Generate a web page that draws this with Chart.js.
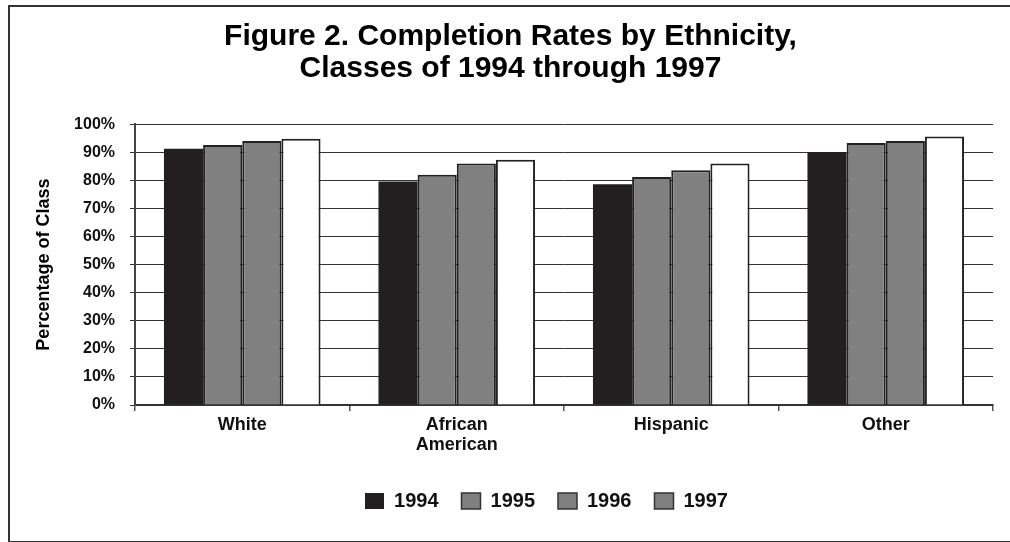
<!DOCTYPE html>
<html>
<head>
<meta charset="utf-8">
<script src="https://cdn.jsdelivr.net/npm/chart.js@4.4.1/dist/chart.umd.min.js"></script>
<style>
  html, body { margin: 0; padding: 0; background: #fff; overflow: hidden; }
  #wrap { position: relative; width: 1010px; height: 542px; }
  #frame { position: absolute; left: 8px; top: 5px; width: 1010px; height: 534px; border-left: 2px solid #333; border-top: 2px solid #333; border-bottom: 2px solid #333; }
  canvas { position: absolute; left: 0; top: 0; }
</style>
</head>
<body>
<div id="wrap">
  <div id="frame"></div>
  <canvas id="c" width="1010" height="542"></canvas>
</div>
<script>
const categories = [["White"], ["African", "American"], ["Hispanic"], ["Other"]];
const years = ["1994", "1995", "1996", "1997"];
const values1994 = [91.3, 79.6, 78.6, 90.1];
const values1995 = [92.6, 82.0, 81.2, 93.3];
const values1996 = [94.0, 86.0, 83.6, 94.0];
const values1997 = [94.8, 87.3, 86.0, 95.6];
const yTicks = [0, 10, 20, 30, 40, 50, 60, 70, 80, 90, 100];

const barFills = ["#231f20", "#808080", "#808080", "#ffffff"];
const legendFills = ["#231f20", "#808080", "#808080", "#808080"];
const FONT = "'Liberation Sans', Arial, Helvetica, sans-serif";

const seriesValues = [values1994, values1995, values1996, values1997];

const shiftLegend = {
  id: 'shiftLegend',
  afterLayout(chart) {
    const lg = chart.legend;
    if (lg) { lg.left += 36; lg.right += 36; lg.top -= 7; lg.bottom -= 7; }
  }
};

new Chart(document.getElementById('c'), {
  type: 'bar',
  data: {
    labels: categories,
    datasets: years.map((y, i) => ({
      label: y,
      data: seriesValues[i],
      backgroundColor: barFills[i],
      borderColor: '#222',
      borderWidth: i === 0 ? 0 : 2,
      borderSkipped: 'bottom',
      categoryPercentage: 0.73,
      barPercentage: 1.0
    }))
  },
  options: {
    responsive: false,
    animation: false,
    devicePixelRatio: 1,
    layout: { padding: { left: 28, right: 17, top: 0, bottom: 14 } },
    plugins: {
      title: {
        display: true,
        text: ["Figure 2. Completion Rates by Ethnicity,", "Classes of 1994 through 1997"],
        color: '#000',
        font: { family: FONT, size: 30, weight: 'bold', lineHeight: 1.07 },
        padding: { top: 21, bottom: 39 }
      },
      legend: {
        display: true,
        position: 'bottom',
        labels: {
          color: '#111',
          font: { family: FONT, size: 20, weight: 'bold' },
          boxWidth: 19,
          boxHeight: 16,
          padding: 23,
          generateLabels(chart) {
            const items = Chart.defaults.plugins.legend.labels.generateLabels(chart);
            items.forEach((it, i) => {
              it.fillStyle = legendFills[i];
              it.strokeStyle = '#333';
              it.lineWidth = i === 0 ? 0 : 1.5;
            });
            return items;
          }
        }
      },
      tooltip: { enabled: false }
    },
    scales: {
      x: {
        grid: {
          display: true,
          offset: true,
          drawOnChartArea: false,
          drawTicks: true,
          tickLength: 6,
          color: '#555',
          lineWidth: 1.5
        },
        border: { display: true, color: '#333', width: 2 },
        ticks: {
          color: '#111',
          font: { family: FONT, size: 18, weight: 'bold', lineHeight: 1.12 },
          padding: 4,
          maxRotation: 0
        },
        afterFit(scale) { scale.height = 70; }
      },
      y: {
        min: 0,
        max: 100,
        afterBuildTicks(scale) { scale.ticks = yTicks.map(v => ({ value: v })); },
        grid: {
          color: '#333',
          lineWidth: 1,
          tickLength: 5,
          drawTicks: true
        },
        border: { display: true, color: '#444', width: 2 },
        ticks: {
          color: '#111',
          font: { family: FONT, size: 16, weight: 'bold' },
          padding: 15,
          callback: v => v + '%'
        },
        title: {
          display: true,
          text: 'Percentage of Class',
          color: '#000',
          font: { family: FONT, size: 18, weight: 'bold' },
          padding: { top: 5, bottom: 0 }
        },
        afterFit(scale) { scale.width = 135 - 28; }
      }
    }
  },
  plugins: [shiftLegend]
});
</script>
</body>
</html>
